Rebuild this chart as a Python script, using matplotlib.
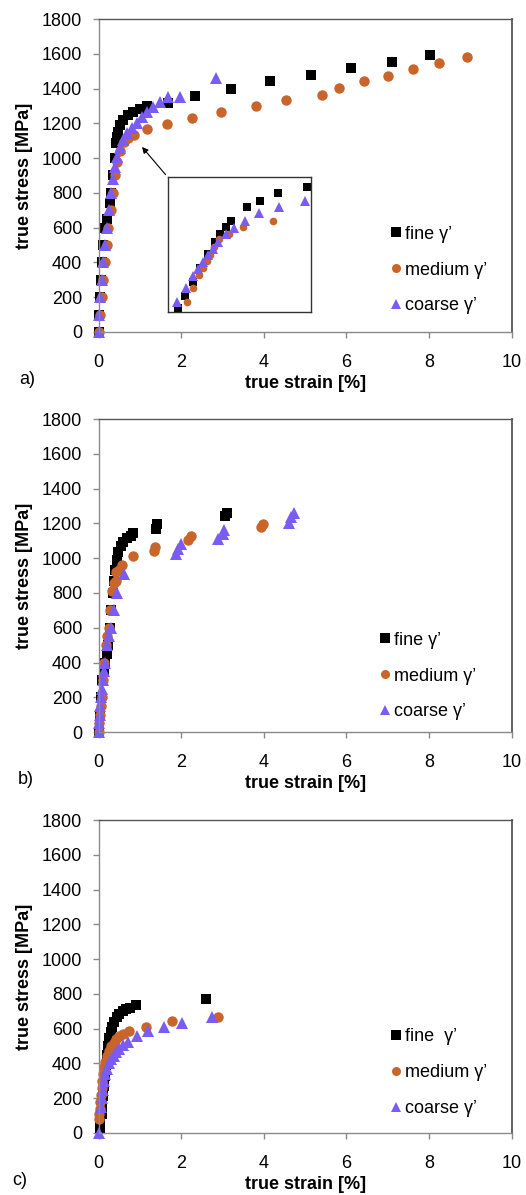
import matplotlib.pyplot as plt

plt.rcParams["font.family"] = ["Liberation Sans", "DejaVu Sans"]

FINE_COLOR = "#000000"
MEDIUM_COLOR = "#c9642a"
COARSE_COLOR = "#7a5cf2"
FRAME_COLOR = "#8a8a8a"

# a) true strain [%] / true stress [MPa]
a_fine_strain = [0.0, 0.01, 0.03, 0.05, 0.07, 0.1, 0.15, 0.19, 0.27, 0.31, 0.35, 0.39, 0.42,
                 0.44, 0.47, 0.52, 0.6, 0.72, 0.84, 1.0, 1.18, 1.69, 2.33, 3.2, 4.16, 5.14,
                 6.12, 7.11, 8.02]
a_fine_stress = [0, 100, 200, 300, 400, 500, 600, 650, 740, 800, 900, 1000, 1085, 1120, 1152,
                 1190, 1219, 1248, 1267, 1280, 1300, 1315, 1360, 1398, 1441, 1480, 1518, 1555,
                 1595]
a_medium_strain = [0.0, 0.03, 0.07, 0.11, 0.15, 0.19, 0.23, 0.3, 0.35, 0.4, 0.45, 0.52, 0.62,
                   0.72, 0.86, 1.18, 1.66, 2.26, 2.96, 3.8, 4.54, 5.4, 5.82, 6.43, 7.0, 7.62,
                   8.23, 8.91]
a_medium_stress = [0, 100, 200, 300, 400, 500, 600, 700, 800, 900, 980, 1040, 1090, 1115,
                   1135, 1165, 1198, 1232, 1264, 1301, 1336, 1365, 1403, 1445, 1474, 1512,
                   1547, 1581]
a_coarse_strain = [0.0, 0.01, 0.03, 0.07, 0.11, 0.15, 0.21, 0.26, 0.31, 0.35, 0.39, 0.44, 0.52,
                   0.6, 0.68, 0.8, 0.92, 1.04, 1.18, 1.32, 1.48, 1.69, 1.97, 2.83]
a_coarse_stress = [0, 100, 200, 300, 400, 500, 600, 700, 800, 880, 950, 1008, 1056, 1104,
                   1142, 1171, 1200, 1234, 1267, 1295, 1324, 1349, 1353, 1459]

# inset of a) (normalised zoom on the yield region)
inset_fine_x = [0.07, 0.117, 0.171, 0.22, 0.281, 0.328, 0.363, 0.403, 0.44, 0.555, 0.644,
                0.768, 0.972]
inset_fine_y = [0.025, 0.116, 0.222, 0.32, 0.427, 0.519, 0.575, 0.625, 0.674, 0.778, 0.822,
                0.877, 0.926]
inset_medium_x = [0.133, 0.171, 0.218, 0.241, 0.269, 0.293, 0.321, 0.358, 0.426, 0.522, 0.733]
inset_medium_y = [0.072, 0.173, 0.272, 0.321, 0.378, 0.42, 0.477, 0.536, 0.575, 0.625, 0.674]
inset_coarse_x = [0.063, 0.122, 0.171, 0.211, 0.246, 0.281, 0.311, 0.351, 0.403, 0.461, 0.539,
                  0.637, 0.778, 0.96]
inset_coarse_y = [0.074, 0.173, 0.264, 0.316, 0.37, 0.42, 0.462, 0.519, 0.575, 0.617, 0.674,
                  0.728, 0.773, 0.822]

# b)
b_fine_strain = [0.0, 0.02, 0.05, 0.08, 0.12, 0.15, 0.19, 0.23, 0.27, 0.31, 0.34, 0.37, 0.4,
                 0.44, 0.48, 0.53, 0.6, 0.68, 0.78, 0.82, 1.38, 1.42, 3.06, 3.1]
b_fine_stress = [0, 100, 200, 300, 350, 400, 450, 500, 600, 700, 800, 870, 930, 990, 1035,
                 1070, 1095, 1115, 1130, 1145, 1170, 1195, 1240, 1260]
b_medium_strain = [0.0, 0.01, 0.03, 0.05, 0.08, 0.1, 0.14, 0.18, 0.21, 0.24, 0.27, 0.33, 0.38,
                   0.42, 0.42, 0.5, 0.56, 0.82, 1.34, 1.37, 2.17, 2.23, 3.92, 3.98]
b_medium_stress = [0, 50, 100, 150, 200, 300, 400, 500, 550, 600, 700, 810, 860, 870, 920,
                   930, 960, 1012, 1040, 1066, 1104, 1128, 1177, 1195]
b_coarse_strain = [0.0, 0.01, 0.02, 0.04, 0.06, 0.08, 0.1, 0.13, 0.16, 0.21, 0.25, 0.3, 0.37,
                   0.45, 0.62, 1.87, 1.92, 1.99, 2.88, 3.0, 3.03, 4.6, 4.66, 4.72]
b_coarse_stress = [0, 50, 100, 150, 200, 250, 300, 350, 400, 500, 550, 600, 700, 800, 910,
                   1025, 1055, 1080, 1108, 1140, 1160, 1205, 1235, 1260]

# c)
c_fine_strain = [0.02, 0.04, 0.07, 0.09, 0.11, 0.13, 0.15, 0.17, 0.19, 0.22, 0.25, 0.29, 0.33,
                 0.38, 0.44, 0.5, 0.58, 0.66, 0.75, 0.9, 2.61]
c_fine_stress = [30, 60, 110, 160, 210, 270, 330, 390, 450, 500, 545, 580, 610, 640, 665, 685,
                 700, 712, 720, 738, 770]
c_medium_strain = [0.0, 0.01, 0.02, 0.03, 0.05, 0.07, 0.09, 0.11, 0.13, 0.16, 0.2, 0.25, 0.3,
                   0.36, 0.42, 0.5, 0.58, 0.74, 1.14, 1.77, 2.9]
c_medium_stress = [80, 110, 140, 180, 220, 260, 300, 340, 380, 410, 440, 470, 500, 520, 540,
                   555, 570, 584, 608, 643, 668]
c_coarse_strain = [0.0, 0.05, 0.07, 0.1, 0.13, 0.16, 0.2, 0.25, 0.3, 0.36, 0.42, 0.5, 0.6,
                   0.72, 0.92, 1.2, 1.58, 2.03, 2.75]
c_coarse_stress = [0, 150, 200, 250, 300, 340, 370, 400, 425, 445, 465, 485, 505, 525, 555,
                   585, 610, 635, 665]

panel_letters = ["a)", "b)", "c)"]
legend_labels = [
    ["fine γ’", "medium γ’", "coarse γ’"],
    ["fine γ’", "medium γ’", "coarse γ’"],
    ["fine  γ’", "medium γ’", "coarse γ’"],
]


def style_axes(ax):
    ax.set_xlim(0, 10)
    ax.set_ylim(0, 1800)
    ax.set_xticks(range(0, 11, 2))
    ax.set_yticks(range(0, 1801, 200))
    for spine in ax.spines.values():
        spine.set_color(FRAME_COLOR)
        spine.set_linewidth(1.0)
    ax.spines["right"].set_color("#555555")
    ax.spines["right"].set_linewidth(1.3)
    ax.spines["top"].set_color("#555555")
    ax.tick_params(axis="both", direction="out", length=4, width=1.0, color=FRAME_COLOR,
                   labelsize=13)
    ax.tick_params(axis="x", pad=12)
    ax.tick_params(axis="y", pad=8)
    ax.set_xlabel("true strain [%]", fontsize=13, fontweight="bold", labelpad=3)
    ax.set_ylabel("true stress [MPa]", fontsize=13, fontweight="bold", labelpad=6)


def draw_series(ax, fine, medium, coarse, size=7.5):
    ax.plot(*fine, ls="none", marker="s", ms=size, mew=0, color=FINE_COLOR, clip_on=False)
    ax.plot(*medium, ls="none", marker="o", ms=size, mew=0, color=MEDIUM_COLOR, clip_on=False)
    ax.plot(*coarse, ls="none", marker="^", ms=size * 1.2, mew=0, color=COARSE_COLOR,
            clip_on=False)


def add_legend(ax, labels, anchor):
    handles = [
        plt.Line2D([], [], ls="none", marker="s", ms=6.5, mew=0, color=FINE_COLOR),
        plt.Line2D([], [], ls="none", marker="o", ms=6.5, mew=0, color=MEDIUM_COLOR),
        plt.Line2D([], [], ls="none", marker="^", ms=7.5, mew=0, color=COARSE_COLOR),
    ]
    ax.legend(handles, labels, loc="center left", bbox_to_anchor=anchor, frameon=False,
              fontsize=13, handlelength=0.7, handletextpad=0.15, labelspacing=1.05,
              borderpad=0, borderaxespad=0)


def main():
    fig = plt.figure(figsize=(5.26, 11.95), dpi=100)
    left, width, height = 0.1876, 0.785, 0.2619
    bottoms = [0.7222, 0.3874, 0.0519]
    data = [
        ((a_fine_strain, a_fine_stress), (a_medium_strain, a_medium_stress),
         (a_coarse_strain, a_coarse_stress)),
        ((b_fine_strain, b_fine_stress), (b_medium_strain, b_medium_stress),
         (b_coarse_strain, b_coarse_stress)),
        ((c_fine_strain, c_fine_stress), (c_medium_strain, c_medium_stress),
         (c_coarse_strain, c_coarse_stress)),
    ]
    anchors = [(0.705, 0.198), (0.677, 0.179), (0.705, 0.192)]
    letter_x = [0.051, 0.049, 0.038]

    axes = []
    for i, bottom in enumerate(bottoms):
        ax = fig.add_axes((left, bottom, width, height))
        style_axes(ax)
        draw_series(ax, *data[i])
        add_legend(ax, legend_labels[i], anchors[i])
        fig.text(letter_x[i], bottom - 0.0395, panel_letters[i], fontsize=13,
                 ha="center", va="center")
        axes.append(ax)

    # inset in panel a
    ax_a = axes[0]
    inset = ax_a.inset_axes((0.1685, 0.065, 0.345, 0.431))
    inset.set_xlim(0, 1)
    inset.set_ylim(0, 1)
    inset.set_xticks([])
    inset.set_yticks([])
    for spine in inset.spines.values():
        spine.set_color("#333333")
        spine.set_linewidth(1.0)
    draw_series(inset, (inset_fine_x, inset_fine_y), (inset_medium_x, inset_medium_y),
                (inset_coarse_x, inset_coarse_y), size=5.5)
    ax_a.annotate("", xy=(1.05, 1064), xytext=(1.62, 905),
                  arrowprops=dict(arrowstyle="-|>", color="black", lw=0.8,
                                  mutation_scale=9, shrinkA=0, shrinkB=0))

    fig.savefig("out.png", dpi=100)


if __name__ == "__main__":
    main()
